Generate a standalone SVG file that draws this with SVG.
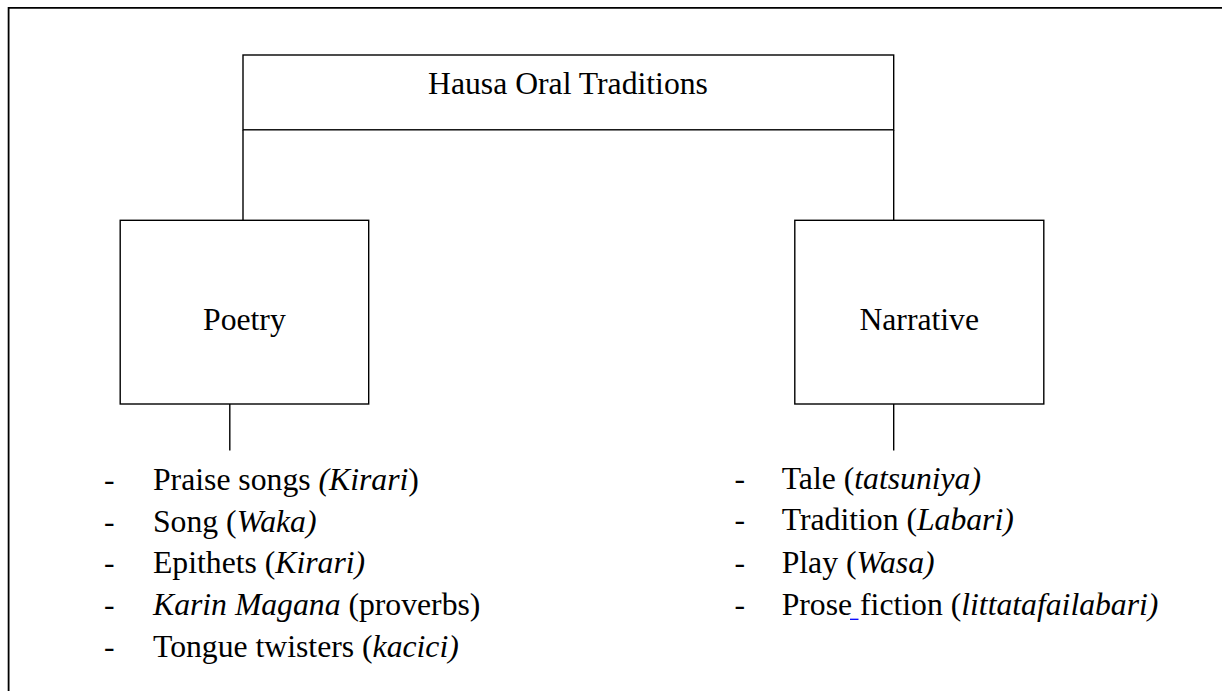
<svg xmlns="http://www.w3.org/2000/svg" width="1222" height="691" viewBox="0 0 1222 691">
<style>
.box{fill:#fff;stroke:#000;stroke-width:1.4}
.con{fill:none;stroke:#000;stroke-width:1.4}
text{font-family:"Liberation Serif","Times New Roman",serif;font-size:31.7px;fill:#000}
.c{text-anchor:middle}
.i{font-style:italic}
</style>
<rect width="1222" height="691" fill="#fff"/>
<path d="M8.6 691 V7.8 H1222" fill="none" stroke="#000" stroke-width="1.8"/>
<g id="connectors">
<path class="con" d="M243 130 V220.3"/>
<path class="con" d="M893.7 130 V220.3"/>
<path class="con" d="M229.8 404 V450.5"/>
<path class="con" d="M893.7 404 V450.5"/>
</g>
<g id="root">
<rect class="box" x="243" y="55" width="650.7" height="74.8"/>
<text class="c" x="568" y="94.3">Hausa Oral Traditions</text>
</g>
<g id="poetry">
<rect class="box" x="120.2" y="220.3" width="248.5" height="183.7"/>
<text class="c" x="244.4" y="330">Poetry</text>
</g>
<g id="narrative">
<rect class="box" x="794.8" y="220.3" width="249" height="183.7"/>
<text class="c" x="919.2" y="329.5">Narrative</text>
</g>
<g id="poetry-list">
<text x="104" y="490">-</text>
<text x="153" y="490">Praise songs <tspan class="i">(Kirari</tspan>)</text>
<text x="104" y="531.7">-</text>
<text x="153" y="531.7">Song (<tspan class="i">Waka)</tspan></text>
<text x="104" y="573.3">-</text>
<text x="153" y="573.3">Epithets (<tspan class="i">Kirari)</tspan></text>
<text x="104" y="615">-</text>
<text x="153" y="615"><tspan class="i">Karin Magana</tspan> (proverbs)</text>
<text x="104" y="657">-</text>
<text x="153" y="657">Tongue twisters (<tspan class="i">kacici)</tspan></text>
</g>
<g id="narrative-list">
<text x="734.5" y="488.5">-</text>
<text x="781.7" y="488.5">Tale (<tspan class="i">tatsuniya)</tspan></text>
<text x="734.5" y="530.3">-</text>
<text x="781.7" y="530.3">Tradition (<tspan class="i">Labari)</tspan></text>
<text x="734.5" y="572.7">-</text>
<text x="781.7" y="572.7">Play (<tspan class="i">Wasa)</tspan></text>
<text x="734.5" y="615">-</text>
<text x="781.7" y="615">Prose fiction (<tspan class="i">littatafailabari)</tspan></text>
<line x1="850" y1="619.3" x2="858.5" y2="619.3" stroke="#00f" stroke-width="1.3"/>
</g>
</svg>
